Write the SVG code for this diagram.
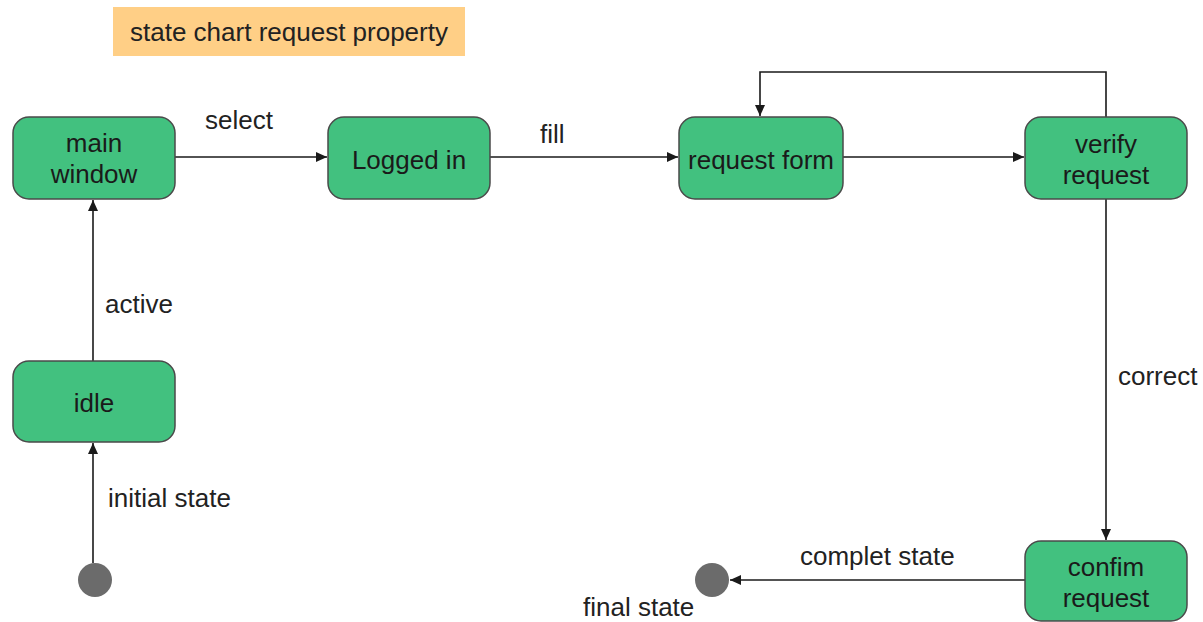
<svg xmlns="http://www.w3.org/2000/svg" width="1203" height="622" viewBox="0 0 1203 622">
<defs>
<marker id="arr" markerWidth="12" markerHeight="10" refX="11" refY="5" orient="auto" markerUnits="userSpaceOnUse">
<path d="M0,0 L11,5 L0,10 Z" fill="#1a1a1a"/>
</marker>
<style>
.node rect{fill:#42C17F;stroke:#4a4a4a;stroke-width:1.5}
.node text,.lbl{font-family:"Liberation Sans",Arial,sans-serif;font-size:26px;fill:#1a1a1a}
.node text{text-anchor:middle}
.lbl{fill:#222}
.edge{fill:none;stroke:#1a1a1a;stroke-width:1.6;marker-end:url(#arr)}
.dot{fill:#6b6b6b}
</style>
</defs>
<rect width="1203" height="622" fill="#ffffff"/>
<g id="title">
<rect x="113" y="7" width="352" height="49" fill="#FFCF86"/>
<text x="289" y="41" text-anchor="middle" style="font-family:'Liberation Sans',Arial,sans-serif;font-size:26px;fill:#222">state chart request property</text>
</g>
<g id="connectors">
<line class="edge" x1="93" y1="563" x2="93" y2="443"/>
<line class="edge" x1="93" y1="361" x2="93" y2="200"/>
<line class="edge" x1="175" y1="157" x2="327" y2="157"/>
<line class="edge" x1="490" y1="157" x2="678" y2="157"/>
<line class="edge" x1="843" y1="157" x2="1024" y2="157"/>
<polyline class="edge" points="1106,117 1106,72 760,72 760,116"/>
<line class="edge" x1="1106" y1="199" x2="1106" y2="540"/>
<line class="edge" x1="1025" y1="580" x2="730" y2="580"/>
<text class="lbl" x="105" y="313">active</text>
<text class="lbl" x="108" y="507">initial state</text>
<text class="lbl" x="205" y="129">select</text>
<text class="lbl" x="540" y="143">fill</text>
<text class="lbl" x="1118" y="385">correct</text>
<text class="lbl" x="800" y="565">complet state</text>
<text class="lbl" x="583" y="616">final state</text>
</g>
<g id="initial"><circle class="dot" cx="95" cy="580" r="17"/></g>
<g id="final"><circle class="dot" cx="712" cy="580" r="17"/></g>
<g id="idle" class="node"><rect x="13" y="361" width="162" height="81" rx="16"/><text x="94" y="412">idle</text></g>
<g id="main-window" class="node"><rect x="13" y="117" width="162" height="82" rx="16"/><text x="94" y="152">main</text><text x="94" y="183">window</text></g>
<g id="logged-in" class="node"><rect x="328" y="117" width="162" height="82" rx="16"/><text x="409" y="169">Logged in</text></g>
<g id="request-form" class="node"><rect x="679" y="117" width="164" height="82" rx="16"/><text x="761" y="169">request form</text></g>
<g id="verify-request" class="node"><rect x="1025" y="117" width="162" height="82" rx="16"/><text x="1106" y="153">verify</text><text x="1106" y="184">request</text></g>
<g id="confim-request" class="node"><rect x="1025" y="541" width="162" height="80" rx="16"/><text x="1106" y="576">confim</text><text x="1106" y="607">request</text></g>
</svg>
